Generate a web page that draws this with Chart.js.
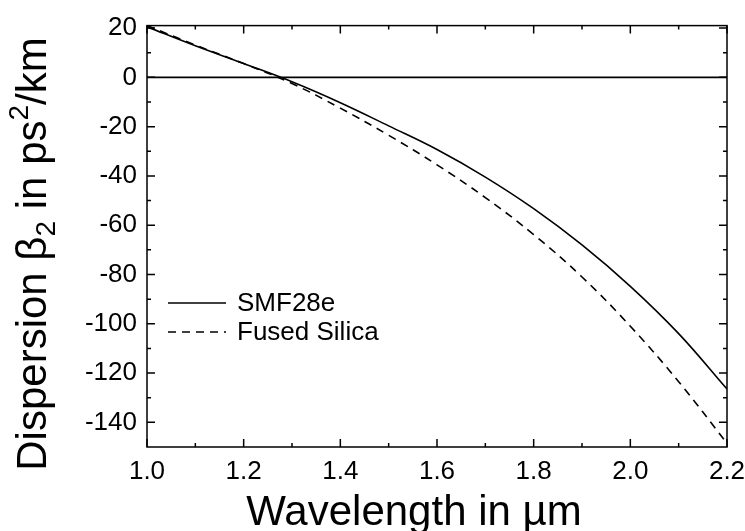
<!DOCTYPE html>
<html>
<head>
<meta charset="utf-8">
<script src="https://cdn.jsdelivr.net/npm/chart.js@4.4.0/dist/chart.umd.min.js"></script>
<style>
  html, body { margin: 0; padding: 0; background: #fff; }
  #wrap { width: 745px; height: 531px; position: relative; }
</style>
</head>
<body>
<div id="wrap"><canvas id="ChartCanvas"></canvas></div>
<script>
// wavelength in um
const wavelengths = [1.0, 1.1, 1.2, 1.3, 1.4, 1.5, 1.6, 1.7, 1.8, 1.9, 2.0, 2.1, 2.2];
// beta2 in ps^2/km
const smf28e = [20.5, 12.8, 5.6, -1.8, -10.3, -19.7, -29.3, -40.5, -53.3, -68.0, -84.8, -104.0, -126.5];
const fusedSilica = [21.0, 13.1, 5.6, -2.5, -12.5, -23.5, -35.5, -48.8, -63.8, -81.0, -101.0, -123.5, -148.5];
const zeroLine = [0, 0];

const xTicks = [1.0, 1.2, 1.4, 1.6, 1.8, 2.0, 2.2];
const yTicks = [20, 0, -20, -40, -60, -80, -100, -120, -140];
const seriesNames = ['SMF28e', 'Fused Silica'];
const xTitle = 'Wavelength in \u00b5m';

const FONT = '"Liberation Sans", Arial, sans-serif';

const toPoints = (xs, ys) => ys.map((v, i) => ({x: xs[i], y: v}));

/**
 * Frame around the plot area with inward ticks on all four sides.
 */
const frameTicks = {
  id: 'frameTicks',
  afterDatasetsDraw: chart => {
    const ctx = chart.ctx;
    const a = chart.chartArea;
    const {x, y} = chart.scales;
    ctx.save();
    ctx.strokeStyle = '#000';
    ctx.lineWidth = 1.5;
    ctx.strokeRect(a.left, a.top, a.right - a.left, a.bottom - a.top);
    ctx.beginPath();
    const xTick = (v, len) => {
      const px = x.getPixelForValue(v);
      ctx.moveTo(px, a.bottom); ctx.lineTo(px, a.bottom - len);
      ctx.moveTo(px, a.top); ctx.lineTo(px, a.top + len);
    };
    const yTick = (v, len) => {
      const py = y.getPixelForValue(v);
      ctx.moveTo(a.left, py); ctx.lineTo(a.left + len, py);
      ctx.moveTo(a.right, py); ctx.lineTo(a.right - len, py);
    };
    xTicks.forEach(v => xTick(v, 8));
    for (let i = 0; i < xTicks.length - 1; i++) {
      xTick((xTicks[i] + xTicks[i + 1]) / 2, 4);
    }
    yTicks.forEach(v => yTick(v, 8));
    for (let i = 0; i < yTicks.length - 1; i++) {
      yTick((yTicks[i] + yTicks[i + 1]) / 2, 4);
    }
    ctx.stroke();
    ctx.restore();
  }
};

/**
 * Legend inside the plot plus the two axis titles.
 */
const labelsPlugin = {
  id: 'labelsPlugin',
  afterDraw: chart => {
    const ctx = chart.ctx;
    const a = chart.chartArea;
    ctx.save();
    ctx.fillStyle = '#000';
    ctx.strokeStyle = '#000';
    ctx.lineWidth = 1.5;

    // legend
    ctx.font = '26px ' + FONT;
    ctx.textBaseline = 'middle';
    ctx.textAlign = 'left';
    const rows = [303, 332];
    chart.data.datasets.slice(0, 2).forEach((ds, i) => {
      ctx.beginPath();
      ctx.setLineDash(ds.borderDash || []);
      ctx.moveTo(a.left + 21, rows[i]);
      ctx.lineTo(a.left + 79, rows[i]);
      ctx.stroke();
      ctx.setLineDash([]);
      ctx.fillText(ds.label, a.left + 90, rows[i] + 1);
    });

    // x title
    ctx.font = '42px ' + FONT;
    ctx.textAlign = 'center';
    ctx.textBaseline = 'alphabetic';
    ctx.fillText(xTitle, 414, 525);

    // y title with subscript and superscript
    const parts = [
      {t: 'Dispersion \u03b2', size: 42, dy: 0},
      {t: '2', size: 28, dy: 9},
      {t: ' in ps', size: 42, dy: 0},
      {t: '2', size: 28, dy: -18},
      {t: '/km', size: 42, dy: 0}
    ];
    let total = 0;
    parts.forEach(p => {
      ctx.font = p.size + 'px ' + FONT;
      p.w = ctx.measureText(p.t).width;
      total += p.w;
    });
    ctx.translate(46, 254);
    ctx.rotate(-Math.PI / 2);
    ctx.textAlign = 'left';
    let cx = -total / 2;
    parts.forEach(p => {
      ctx.font = p.size + 'px ' + FONT;
      ctx.fillText(p.t, cx, p.dy);
      cx += p.w;
    });
    ctx.restore();
  }
};

const chart = new Chart(document.getElementById('ChartCanvas'), {
  type: 'line',
  data: {
    datasets: [{
      label: seriesNames[0],
      data: toPoints(wavelengths, smf28e),
      borderColor: '#000',
      borderWidth: 1.6,
      pointRadius: 0,
      tension: 0.4,
    }, {
      label: seriesNames[1],
      data: toPoints(wavelengths, fusedSilica),
      borderColor: '#000',
      borderWidth: 1.6,
      borderDash: [8, 6],
      pointRadius: 0,
      tension: 0.4,
    }, {
      label: 'zero',
      data: toPoints([xTicks[0], xTicks[xTicks.length - 1]], zeroLine),
      borderColor: '#000',
      borderWidth: 1.6,
      pointRadius: 0,
    }]
  },
  options: {
    animation: false,
    responsive: true,
    maintainAspectRatio: false,
    layout: {
      padding: {left: 0, top: 21, right: 18, bottom: 0}
    },
    plugins: {
      legend: {display: false},
      tooltip: {enabled: false}
    },
    scales: {
      x: {
        type: 'linear',
        min: 1.0,
        max: 2.2,
        grid: {display: false, drawTicks: false},
        border: {display: false},
        afterBuildTicks: scale => {
          scale.ticks = xTicks.map(v => ({value: v}));
        },
        afterFit: scale => {
          scale.height = 84;
          scale.paddingLeft = 0;
          scale.paddingRight = 0;
        },
        ticks: {
          color: '#000',
          padding: 9,
          font: {family: FONT, size: 26},
          maxRotation: 0,
          callback: v => v.toFixed(1)
        }
      },
      y: {
        type: 'linear',
        min: -150,
        max: 21,
        grid: {display: false, drawTicks: false},
        border: {display: false},
        afterBuildTicks: scale => {
          scale.ticks = yTicks.map(v => ({value: v}));
        },
        afterFit: scale => {
          scale.width = 147;
        },
        ticks: {
          color: '#000',
          padding: 10,
          font: {family: FONT, size: 26},
          callback: v => String(v)
        }
      }
    }
  },
  plugins: [frameTicks, labelsPlugin]
});
</script>
</body>
</html>
